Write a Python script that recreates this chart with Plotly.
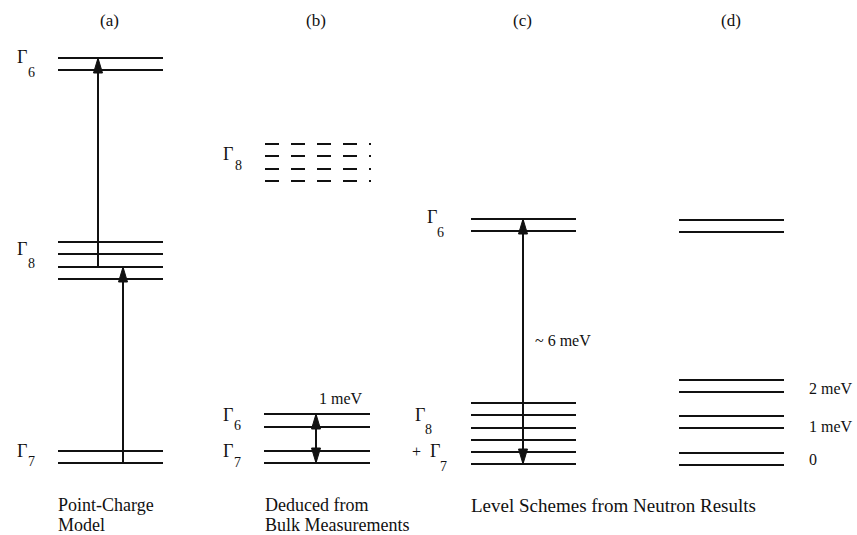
import plotly.graph_objects as go

# ---------------- data (level energies, diagram units; ground state ~0) -------------
levels_a = [0, 12, 184, 196, 209, 221, 393, 405]          # Point-charge model
levels_b_solid = [0, 12, 36, 49]                           # Bulk measurements, G7 + G6
levels_b_dashed = [282, 294, 307, 319]                     # Bulk measurements, G8 (dashed)
levels_c = [-1, 11, 23, 35, 48, 60, 232, 244]              # Neutron results (c)
levels_d = [-2, 10, 35, 47, 71, 83, 231, 243]              # Neutron results (d)

# transitions: (from level index, to level index)
arrows_a = [(0, 3), (3, 7)]
arrows_b = [(0, 3)]
arrows_c = [(0, 7)]

panel_titles = ["(a)", "(b)", "(c)", "(d)"]
energy_labels_d = ["2 meV", "1 meV", "0"]
bottom_labels = [["Point-Charge", "Model"], ["Deduced from", "Bulk Measurements"],
                 ["Level Schemes from Neutron Results"]]

# ---------------- layout / style (positions in axis units) ----------------
SPAN = {"a": (58, 163), "b": (264, 370), "bd": (265, 371), "c": (471, 576), "d": (679, 784)}
ARROW_X = {"a": [123, 98], "b": [316], "c": [523]}
LW = 2
INK = "#111111"
FONT = "Liberation Serif"
HEAD_L, HEAD_W = 15, 9

fig = go.Figure()


def add_levels(levels, span, dash="solid"):
    xs, ys = [], []
    for e in levels:
        xs += [span[0], span[1], None]
        ys += [e, e, None]
    fig.add_trace(go.Scatter(x=xs, y=ys, mode="lines",
                             line=dict(color=INK, width=LW, dash=dash),
                             hoverinfo="skip", showlegend=False))


def head(x, tip, direction):
    # filled triangle with tip at (x, tip); direction +1 = pointing up
    base = tip - direction * HEAD_L
    fig.add_trace(go.Scatter(x=[x, x - HEAD_W / 2, x + HEAD_W / 2, x],
                             y=[tip, base, base, tip], mode="lines",
                             fill="toself", fillcolor=INK,
                             line=dict(color=INK, width=1),
                             hoverinfo="skip", showlegend=False))


def add_arrow(x, y0, y1, double=False):
    fig.add_trace(go.Scatter(x=[x, x], y=[y0, y1], mode="lines",
                             line=dict(color=INK, width=LW),
                             hoverinfo="skip", showlegend=False))
    head(x, y1, 1 if y1 > y0 else -1)
    if double:
        head(x, y0, 1 if y0 > y1 else -1)


add_levels(levels_a, SPAN["a"])
add_levels(levels_b_solid, SPAN["b"])
add_levels(levels_b_dashed, SPAN["bd"], dash="14px,12px")
add_levels(levels_c, SPAN["c"])
add_levels(levels_d, SPAN["d"])

for (i, j), x in zip(arrows_a, ARROW_X["a"]):
    add_arrow(x, levels_a[i], levels_a[j])
for (i, j), x in zip(arrows_b, ARROW_X["b"]):
    add_arrow(x, levels_b_solid[j], levels_b_solid[i], double=True)
for (i, j), x in zip(arrows_c, ARROW_X["c"]):
    add_arrow(x, levels_c[j], levels_c[i], double=True)

ann = []


def text(x, y, s, size=16, xanchor="left"):
    ann.append(dict(x=x, y=y, text=s, showarrow=False, xanchor=xanchor, yanchor="middle",
                    borderpad=0, font=dict(family=FONT, size=size, color=INK)))


# panel titles
for t, x in zip(panel_titles, [109, 316, 522, 731]):
    text(x, 443, t, size=17, xanchor="center")


def gamma(xg, yg, xs, ys, sub):
    text(xg, yg, "Γ", size=18)
    text(xs, ys, sub, size=14)


# (a)
gamma(16, 406, 27, 391, "6")
gamma(16, 214, 27, 200, "8")
gamma(16, 12, 27, 2, "7")
# (b)
gamma(222, 309, 234, 298, "8")
gamma(222, 48, 233, 38, "6")
gamma(222, 12, 233, 1, "7")
text(318, 65, "1 meV", size=16)
# (c)
gamma(426, 246, 436, 231, "6")
gamma(414, 48, 424, 34, "8")
text(411, 12, "+", size=16)
gamma(429, 12, 439, -3, "7")
text(534, 123, "~ 6 meV", size=16)
# (d)
for s, y in zip(energy_labels_d, [75, 37, 4]):
    text(808, y, s, size=16)

# bottom captions
for lines, x in zip(bottom_labels, [57, 264, 470]):
    for k, s in enumerate(lines):
        text(x, -42 - 20 * k, s, size=18 if len(lines) > 1 else 19)

fig.update_layout(
    width=857, height=535,
    margin=dict(l=0, r=0, t=0, b=0),
    paper_bgcolor="white", plot_bgcolor="white",
    xaxis=dict(range=[0, 857], visible=False, fixedrange=True),
    yaxis=dict(range=[-72, 463], visible=False, fixedrange=True),
    annotations=ann,
    showlegend=False,
)

fig.write_html("out.html")
